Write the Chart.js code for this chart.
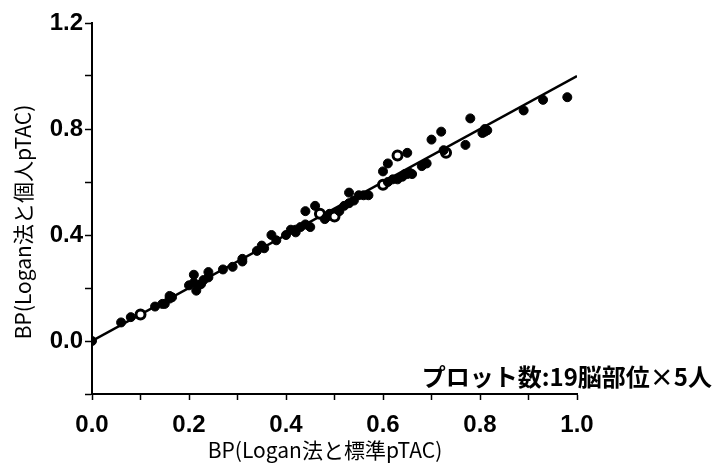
<!DOCTYPE html>
<html>
<head>
<meta charset="utf-8">
<script src="https://cdn.jsdelivr.net/npm/chart.js@4"></script>
<style>
  html, body { margin: 0; padding: 0; background: #fff; }
  #wrap { width: 727px; height: 464px; }
</style>
</head>
<body>
<div id="wrap"><canvas id="bpChart" width="727" height="464"></canvas></div>
<script>
// BP values: standard pTAC (x) vs individual pTAC (y), Logan method
const bpStandard = [0.00, 0.06, 0.08, 0.10, 0.13, 0.15, 0.16, 0.16, 0.21, 0.21, 0.22, 0.23, 0.24, 0.24,
  0.27, 0.29, 0.31, 0.34, 0.35, 0.37, 0.38, 0.40, 0.41, 0.42, 0.43, 0.45, 0.44, 0.46, 0.47, 0.48,
  0.49, 0.50, 0.52, 0.53, 0.54, 0.55, 0.57, 0.60, 0.60, 0.61, 0.61, 0.63, 0.63, 0.65, 0.64, 0.65,
  0.66, 0.68, 0.70, 0.72, 0.73, 0.77, 0.78, 0.81, 0.81, 0.89, 0.93, 0.98,
  0.215, 0.225, 0.165, 0.145, 0.31, 0.42, 0.44, 0.485, 0.50, 0.51, 0.53, 0.56, 0.62, 0.645, 0.655,
  0.69, 0.725, 0.805, 0.815, 0.355, 0.20];
const bpIndividual = [0.00, 0.07, 0.09, 0.10, 0.13, 0.14, 0.16, 0.17, 0.22, 0.25, 0.21, 0.23, 0.26, 0.24,
  0.27, 0.28, 0.30, 0.34, 0.36, 0.40, 0.38, 0.40, 0.42, 0.41, 0.43, 0.43, 0.49, 0.51, 0.48, 0.46,
  0.48, 0.48, 0.51, 0.56, 0.53, 0.55, 0.55, 0.59, 0.64, 0.60, 0.67, 0.61, 0.70, 0.71, 0.62, 0.63,
  0.63, 0.66, 0.76, 0.79, 0.71, 0.74, 0.84, 0.79, 0.80, 0.87, 0.91, 0.92,
  0.19, 0.215, 0.165, 0.14, 0.31, 0.42, 0.44, 0.47, 0.47, 0.49, 0.52, 0.55, 0.61, 0.63, 0.635,
  0.67, 0.72, 0.785, 0.795, 0.35, 0.21];
// a few markers drawn as open circles
const openIndex = [3, 28, 37, 42, 50, 66];
const fitLine = [0, 1.0];

const xTickLabels = ['0.0', '0.2', '0.4', '0.6', '0.8', '1.0'];
const yTickLabels = ['0.0', '0.4', '0.8', '1.2'];
const xTitle = 'BP(Logan法と標準pTAC)';
const yTitle = 'BP(Logan法と個人pTAC)';
const note = 'プロット数:19脳部位×5人';

const points = bpStandard.map((x, i) => ({ x: x, y: bpIndividual[i] }));
const tickFont = { family: "'Liberation Sans', Arial, sans-serif", size: 24, weight: 'bold' };

const textPlugin = {
  id: 'texts',
  afterDraw(chart) {
    const ctx = chart.ctx;
    ctx.save();
    ctx.fillStyle = '#000';
    ctx.textBaseline = 'middle';
    ctx.font = "21px 'Noto Sans CJK JP', sans-serif";
    ctx.textAlign = 'center';
    ctx.fillText(xTitle, 325, 450);
    ctx.save();
    ctx.translate(23, 222);
    ctx.rotate(-Math.PI / 2);
    ctx.fillText(yTitle, 0, 0);
    ctx.restore();
    ctx.font = "bold 24px 'Noto Sans CJK JP', serif";
    ctx.textAlign = 'right';
    ctx.fillText(note, 712, 377);
    ctx.restore();
  }
};

new Chart(document.getElementById('bpChart'), {
  data: {
    datasets: [{
      type: 'line',
      data: [{ x: fitLine[0], y: fitLine[0] }, { x: fitLine[1], y: fitLine[1] }],
      borderColor: '#000',
      borderWidth: 2.5,
      pointRadius: 0,
      order: 2
    }, {
      type: 'scatter',
      data: points,
      pointRadius: 4.5,
      pointBorderWidth: points.map((p, i) => openIndex.includes(i) ? 3 : 1),
      pointBorderColor: '#000',
      pointBackgroundColor: points.map((p, i) => openIndex.includes(i) ? '#fff' : '#000'),
      order: 1
    }]
  },
  options: {
    responsive: false,
    animation: false,
    layout: { padding: { left: 0, top: 23, right: 150, bottom: 0 } },
    plugins: { legend: { display: false }, tooltip: { enabled: false } },
    scales: {
      x: {
        type: 'linear',
        min: 0, max: 1.0,
        afterFit(scale) { scale.height = 70; },
        border: { display: true, color: '#000', width: 2 },
        grid: { drawOnChartArea: false, color: '#000', tickLength: 6, tickWidth: 1.5 },
        ticks: {
          stepSize: 0.1,
          color: '#000',
          font: tickFont,
          padding: 11,
          maxRotation: 0,
          autoSkip: false,
          callback: (v) => {
            const k = Math.round(v * 10);
            return k % 2 === 0 ? xTickLabels[k / 2] : '';
          }
        }
      },
      y: {
        type: 'linear',
        min: -0.2, max: 1.2,
        afterFit(scale) { scale.width = 92; },
        border: { display: true, color: '#000', width: 2 },
        grid: { drawOnChartArea: false, color: '#000', tickLength: 7, tickWidth: 1.5 },
        ticks: {
          stepSize: 0.2,
          color: '#000',
          font: tickFont,
          padding: 2,
          autoSkip: false,
          callback: (v) => {
            const k = Math.round(v * 10);
            return k >= 0 && k % 4 === 0 ? yTickLabels[k / 4] : '';
          }
        }
      }
    }
  },
  plugins: [textPlugin]
});
</script>
</body>
</html>
